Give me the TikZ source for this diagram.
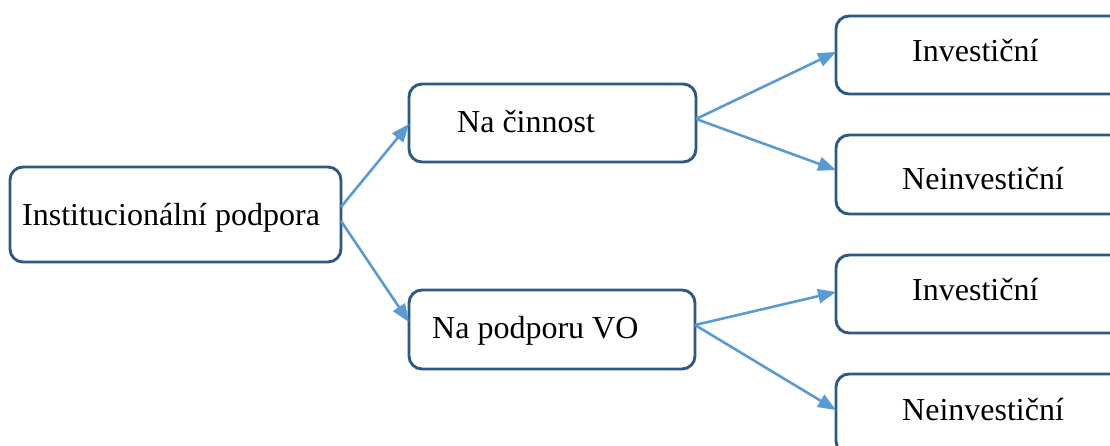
\documentclass[tikz,border=0pt]{standalone}
\usepackage{fontspec}
\setmainfont{Liberation Serif}
\usetikzlibrary{arrows.meta}
\definecolor{boxblue}{HTML}{2C5985}
\definecolor{arrowblue}{HTML}{5B9BD5}
\begin{document}
\begin{tikzpicture}[x=1pt,y=-1pt,
  box/.style={draw=boxblue, line width=2.9pt, rounded corners=13pt, fill=white, rectangle, inner sep=0pt, outer sep=0pt},
  lbl/.style={anchor=base west, inner sep=0pt, font=\fontsize{32}{38}\selectfont},
  conn/.style={draw=arrowblue, line width=2.6pt, -{Triangle[length=18pt,width=14pt]}}]
\path[use as bounding box, clip] (0,0) rectangle (1110,446);
\fill[white] (0,0) rectangle (1110,446);
% boxes
\node[box, minimum width=331pt, minimum height=95pt] (A) at (175.5,214.5) {};
\node[box, minimum width=287pt, minimum height=78pt] (B) at (552.5,123) {};
\node[box, minimum width=286pt, minimum height=79pt] (C) at (552,329.5) {};
\node[box, minimum width=290pt, minimum height=78pt] (R1) at (981,55) {};
\node[box, minimum width=290pt, minimum height=79pt] (R2) at (981,174.5) {};
\node[box, minimum width=290pt, minimum height=78pt] (R3) at (981,294) {};
\node[box, minimum width=290pt, minimum height=80pt] (R4) at (981,414) {};
% labels
\node[lbl] (tA) at (22,226) {Institucionální podpora};
\node[lbl] (tB) at (457,133) {Na činnost};
\node[lbl] (tC) at (432,338) {Na podporu VO};
\node[lbl] (t1) at (912,62) {Investiční};
\node[lbl] (t2) at (902,190) {Neinvestiční};
\node[lbl] (t3) at (912,300) {Investiční};
\node[lbl] (t4) at (902,420) {Neinvestiční};
% connectors
\draw[conn] ([yshift=7.5pt]A.east) -- ([yshift=-1pt]B.west);
\draw[conn] ([yshift=-6.5pt]A.east) -- ([yshift=7.5pt]C.west);
\draw[conn] ([yshift=4pt]B.east) -- ([yshift=3pt]R1.west);
\draw[conn] ([yshift=4pt]B.east) -- ([yshift=4.5pt]R2.west);
\draw[conn] ([yshift=4.5pt]C.east) -- ([yshift=2pt]R3.west);
\draw[conn] ([yshift=4.5pt]C.east) -- ([yshift=4pt]R4.west);
\end{tikzpicture}
\end{document}
